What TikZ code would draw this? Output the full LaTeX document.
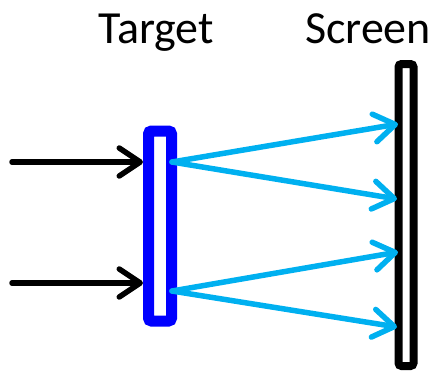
\documentclass[tikz,border=0pt]{standalone}
\usepackage{fontspec}
\setmainfont{Carlito}
\usetikzlibrary{arrows.meta}
\definecolor{lightblue}{RGB}{0,176,240}

\begin{document}
\begin{tikzpicture}
		[x=1pt, y=-1pt,
		plate/.style={rectangle, draw, fill=white, rounded corners=3pt, inner sep=0pt},
		beam/.style={line width=5.5pt, line cap=round, -{Straight Barb[length=21pt, width=28pt, line cap=round, line join=round]}},
		scatter/.style={beam, draw=lightblue},
		title/.style={font=\fontsize{46}{55}\selectfont, anchor=base}]
		\useasboundingbox (0,0) rectangle (438,370);

		\node[title] (targetlabel) at (156,43) {Target};
		\node[title] (screenlabel) at (368,43) {Screen};

		\node[plate, draw=blue, line width=11pt, minimum width=23pt, minimum height=190pt] (target) at (160,226) {};
		\node[plate, line width=8pt, minimum width=15pt, minimum height=302pt] (screen) at (406,215) {};

		\coordinate (in1) at (12,162);
		\coordinate (in2) at (12,283);
		\coordinate (out1) at (172,162);
		\coordinate (out2) at (172,291);
		\coordinate (hit1) at (398,124);
		\coordinate (hit2) at (397,199);
		\coordinate (hit3) at (398,252);
		\coordinate (hit4) at (397,327);

		\draw[beam] (in1) -- (in1 -| target.west);
		\draw[beam] (in2) -- (in2 -| target.west);

		\draw[scatter] (out1) -- (hit1);
		\draw[scatter] (out1) -- (hit2);
		\draw[scatter] (out2) -- (hit3);
		\draw[scatter] (out2) -- (hit4);
	\end{tikzpicture}
\end{document}
